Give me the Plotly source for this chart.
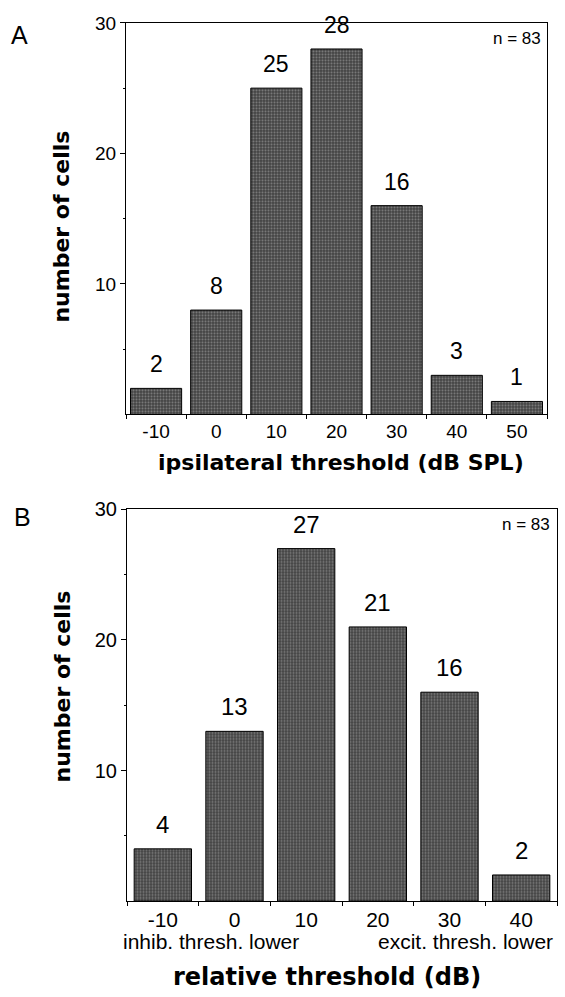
import plotly.graph_objects as go

W, H = 565, 997

# ---- data ----
a_categories = ['-10', '0', '10', '20', '30', '40', '50']
a_counts = [2, 8, 25, 28, 16, 3, 1]
b_categories = ['-10', '0', '10', '20', '30', '40']
b_counts = [4, 13, 27, 21, 16, 2]
y_ticks = [10, 20, 30]
n_label = 'n = 83'


def px(x):
    return x / W


def py(y):
    return 1 - y / H


REG = 'Liberation Sans, Arial, Helvetica, sans-serif'
BOLD = 'DejaVu Sans, Arial Black, sans-serif'

fig = go.Figure()

bar_style = dict(
    marker=dict(
        color='#424242',
        line=dict(color='black', width=1),
        pattern=dict(shape='.', fgcolor='#b8b8b8', size=3, solidity=0.38),
    ),
    cliponaxis=False,
    showlegend=False,
)

fig.add_trace(go.Bar(x=a_categories, y=a_counts, xaxis='x', yaxis='y', **bar_style))
fig.add_trace(go.Bar(x=b_categories, y=b_counts, xaxis='x2', yaxis='y2', width=0.8,
                     **bar_style))

xcommon = dict(type='category', tickson='boundaries', ticks='outside', ticklen=4,
               tickcolor='black', showline=True, linecolor='black', linewidth=1,
               mirror=True, showgrid=False, zeroline=False)
ycommon = dict(range=[0, 30], tickvals=y_ticks, ticks='outside', ticklen=5,
               tickcolor='black', showline=True, linecolor='black', linewidth=1,
               mirror=True, showgrid=False, zeroline=False,
               minor=dict(tickvals=[5, 15, 25], ticks='outside', ticklen=2,
                          tickcolor='black'))

fig.update_layout(
    width=W, height=H,
    margin=dict(l=0, r=0, t=0, b=0),
    paper_bgcolor='white', plot_bgcolor='white',
    xaxis=dict(domain=[px(126), px(547)], anchor='y',
               range=[-0.5, len(a_categories) - 0.5],
               tickfont=dict(family=REG, size=19, color='black'), **xcommon),
    yaxis=dict(domain=[py(408), py(12)], anchor='x',
               tickfont=dict(family=REG, size=19, color='black'), **ycommon),
    xaxis2=dict(domain=[px(127), px(557)], anchor='y2',
                range=[-0.5, len(b_categories) - 0.5],
                tickfont=dict(family=REG, size=21, color='black'), **xcommon),
    yaxis2=dict(domain=[py(900), py(504)], anchor='x2',
                tickfont=dict(family=REG, size=20, color='black'), **ycommon),
    bargap=0.15,
)

ann = []

# value labels above the bars, placed through the axes (category index)
for cats, vals, xr, yr, fs in [(a_categories, a_counts, 'x', 'y', 23),
                               (b_categories, b_counts, 'x2', 'y2', 24)]:
    for i, v in enumerate(vals):
        ann.append(dict(text=str(v), x=i, y=v, xref=xr, yref=yr,
                        xanchor='center', yanchor='bottom', yshift=9,
                        showarrow=False,
                        font=dict(family=REG, size=fs, color='black')))


def add(text, x, y, size, family=REG, xanchor='center', angle=0, bold=False):
    ann.append(dict(text=('<b>%s</b>' % text) if bold else text,
                    x=px(x), y=py(y), xref='paper', yref='paper',
                    xanchor=xanchor, yanchor='middle', showarrow=False,
                    textangle=angle,
                    font=dict(family=family, size=size, color='black')))


add('A', 19, 24, 25)
add('B', 22, 512, 25)
add(n_label, 543, 28, 17, xanchor='right')
add(n_label, 552, 519, 17, xanchor='right')
add('ipsilateral threshold (dB SPL)', 341, 457, 22, family=BOLD, bold=True)
add('relative threshold (dB)', 327, 977, 24, family=BOLD, bold=True)
add('number of cells', 62, 218, 22, family=BOLD, angle=-90, bold=True)
add('number of cells', 62, 683, 22, family=BOLD, angle=-90, bold=True)
add('inhib. thresh. lower', 121, 941, 21, xanchor='left')
add('excit. thresh. lower', 555, 941, 21, xanchor='right')

fig.update_layout(annotations=ann)

fig.write_html('out.html')
